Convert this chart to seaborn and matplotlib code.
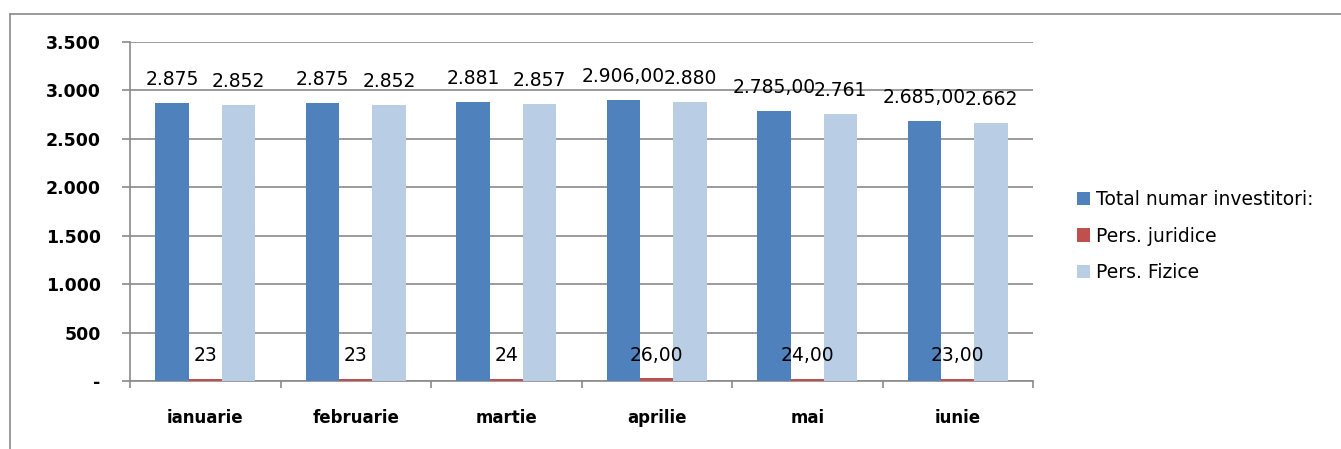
import numpy as np
import pandas as pd
import seaborn as sns
from matplotlib import pyplot as plt
from matplotlib.lines import Line2D
from matplotlib.ticker import FuncFormatter

# data
luni = ["ianuarie", "februarie", "martie", "aprilie", "mai", "iunie"]
serii = ["Total numar investitori:", "Pers. juridice", "Pers. Fizice"]
total = [2875, 2875, 2881, 2906, 2785, 2685]
juridice = [23, 23, 24, 26, 24, 23]
fizice = [2852, 2852, 2857, 2880, 2761, 2662]
et_total = ["2.875", "2.875", "2.881", "2.906,00", "2.785,00", "2.685,00"]
et_juridice = ["23", "23", "24", "26,00", "24,00", "23,00"]
et_fizice = ["2.852", "2.852", "2.857", "2.880", "2.761", "2.662"]
culori = ["#4F81BD", "#C0504D", "#B9CDE5"]

df = pd.DataFrame({
    "luna": luni * 3,
    "serie": np.repeat(serii, len(luni)),
    "valoare": total + juridice + fizice,
})

sns.set_style("white")
plt.rcParams["font.family"] = ["DejaVu Sans"]
grid_c = "#8a8a8a"

fig = plt.figure(figsize=(13.41, 4.49), dpi=100)
ax = fig.add_axes([130 / 1341, 1 - 381 / 449, (1033 - 130) / 1341, (381 - 42) / 449])

sns.barplot(data=df, x="luna", y="valoare", hue="serie", hue_order=serii,
            palette=culori, width=0.665, saturation=1, linewidth=0,
            edgecolor="none", ax=ax)

# bars over the baseline so the small red ones stay visible
for p in ax.patches:
    p.set_zorder(3)

# value labels
for cont, et in zip(ax.containers, [et_total, et_juridice, et_fizice]):
    ax.bar_label(cont, labels=et, padding=10, fontsize=13.5, color="black")

ax.set_ylim(0, 3500)
ax.set_xlim(-0.5, len(luni) - 0.5)
ax.set_yticks(np.arange(0, 3501, 500))
ax.yaxis.set_major_formatter(FuncFormatter(
    lambda v, p: "-" if v == 0 else f"{int(v):,}".replace(",", ".")))
ax.grid(axis="y", color=grid_c, lw=1.2)
ax.set_axisbelow(True)
ax.set_xlabel("")
ax.set_ylabel("")

for s in ["top", "right"]:
    ax.spines[s].set_visible(False)
for s in ["left", "bottom"]:
    ax.spines[s].set_color(grid_c)
    ax.spines[s].set_linewidth(1.2)

ax.tick_params(axis="y", left=True, length=6, color=grid_c, width=1.2, pad=15,
               labelsize=12.5, labelcolor="black")
for t in ax.get_yticklabels():
    t.set_fontweight("bold")
ax.set_xticks(np.arange(-0.5, len(luni), 1), minor=True)
ax.tick_params(axis="x", which="major", length=0, pad=20, labelsize=12, labelcolor="black")
ax.tick_params(axis="x", which="minor", bottom=True, length=5, color=grid_c, width=1.2)
for t in ax.get_xticklabels():
    t.set_fontweight("bold")

# legend
handles, labels = ax.get_legend_handles_labels()
leg = ax.legend(handles, labels, loc="center left", bbox_to_anchor=(1077 / 1341, 1 - 236 / 449),
                bbox_transform=fig.transFigure, frameon=False, fontsize=13.5,
                handlelength=0.7, handleheight=0.7, handletextpad=0.3,
                labelspacing=0.95, borderpad=0, borderaxespad=0)
for t in leg.get_texts():
    t.set_color("black")

# outer frame (left and top edge)
fx, fy = 10 / 1341, 1 - 14 / 449
fig.add_artist(Line2D([fx, fx], [0, fy], transform=fig.transFigure, color=grid_c, lw=1.2))
fig.add_artist(Line2D([fx, 1], [fy, fy], transform=fig.transFigure, color=grid_c, lw=1.2))

fig.savefig("out.png", dpi=100)
